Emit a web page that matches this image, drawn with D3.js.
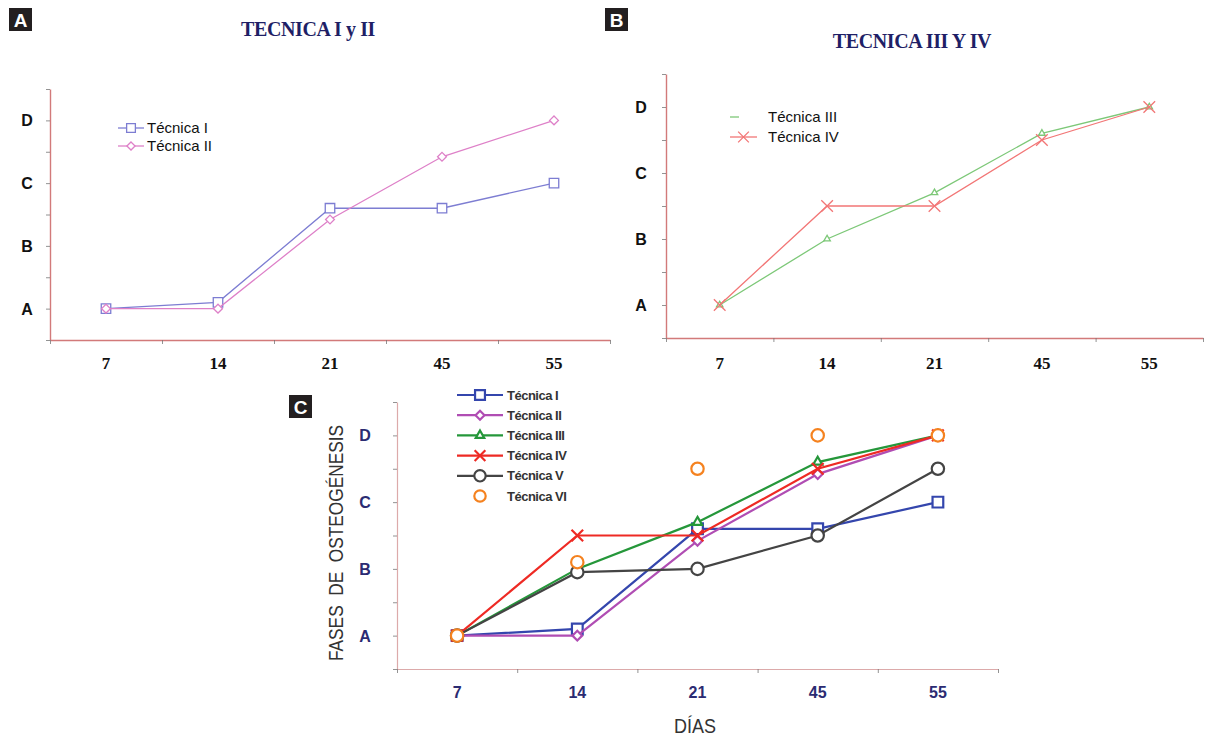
<!DOCTYPE html>
<html>
<head>
<meta charset="utf-8">
<script src="https://cdn.jsdelivr.net/npm/d3@7"></script>
<style>
    body { margin: 0; background: #fff; }
    svg { display: block; }
</style>
</head>
<body>
<div id="chart"></div>
<script>
// days of observation and osteogenesis phases
var dias = ["7", "14", "21", "45", "55"];
var fases = ["A", "B", "C", "D"];

// phase reached per day (1 = A ... 4 = D)
var tecnicaI = [1, 1.1, 2.6, 2.6, 3];
var tecnicaII = [1, 1, 2.42, 3.42, 4];
var tecnicaIII = [1, 2, 2.7, 3.6, 4];
var tecnicaIV = [1, 2.5, 2.5, 3.5, 4];
var tecnicaV = [1, 1.95, 2, 2.5, 3.5];
var tecnicaVI = [1, 2.1, 3.5, 4, 4];

var svg = d3.select("#chart")
    .append("svg")
    .attr("width", 1208)
    .attr("height", 741);

var symX = d3.symbolTimes || d3.symbolX;

function panelLabel(x, y, letter) {
    svg.append("rect")
        .attr("x", x).attr("y", y)
        .attr("width", 23).attr("height", 23)
        .attr("fill", "#231f20");
    svg.append("text")
        .attr("x", x + 11.5).attr("y", y + 18.5)
        .attr("text-anchor", "middle")
        .attr("font-family", "Liberation Sans, Arial, sans-serif")
        .attr("font-weight", "bold")
        .attr("font-size", 19)
        .attr("fill", "#fff")
        .text(letter);
}

function title(x, y, txt) {
    svg.append("text")
        .attr("x", x).attr("y", y)
        .attr("text-anchor", "middle")
        .attr("font-family", "Liberation Serif, Times New Roman, serif")
        .attr("font-weight", "bold")
        .attr("font-size", 20)
        .attr("letter-spacing", -0.4)
        .attr("fill", "#1f1f66")
        .text(txt);
}

function drawPanel(p) {
    var g = svg.append("g");

    var x = d3.scaleBand().domain(dias).range([p.left, p.right]);
    var xEdge = d3.scaleLinear().domain([0, dias.length]).range([p.left, p.right]);
    var y = d3.scaleLinear().domain([0.5, 4.5]).range([p.bottom, p.top]);

    // axes
    var yAxis = g.append("g")
        .attr("transform", "translate(" + p.left + ",0)")
        .call(d3.axisLeft(y).tickValues(d3.range(0.5, 4.51, 0.5)).tickSize(4).tickSizeOuter(0).tickFormat(""));
    var xAxis = g.append("g")
        .attr("transform", "translate(0," + p.bottom + ")")
        .call(d3.axisBottom(xEdge).tickValues(d3.range(0, dias.length + 1)).tickSize(4).tickSizeOuter(0).tickFormat(""));
    [yAxis, xAxis].forEach(function(a) {
        a.select(".domain").attr("stroke", p.axisColor).attr("stroke-width", p.axisWidth);
        a.selectAll(".tick line").attr("stroke", "#777").attr("stroke-width", 0.8);
    });

    // category labels
    g.selectAll(".xlab")
        .data(dias)
        .enter().append("text")
        .attr("x", d => x(d) + x.bandwidth() / 2)
        .attr("y", p.bottom + p.xLabelDy)
        .attr("text-anchor", "middle")
        .attr("font-family", p.xFont)
        .attr("font-size", p.xFontSize)
        .attr("font-weight", p.xWeight)
        .attr("fill", p.labelColor)
        .text(d => d);

    g.selectAll(".ylab")
        .data(fases)
        .enter().append("text")
        .attr("x", p.yLabelX)
        .attr("y", (d, i) => y(i + 1) + p.yLabelDy)
        .attr("text-anchor", "middle")
        .attr("font-family", p.yFont)
        .attr("font-size", p.yFontSize)
        .attr("font-weight", p.yWeight)
        .attr("fill", p.labelColor)
        .text(d => d);

    var line = d3.line()
        .x((d, i) => x(dias[i]) + x.bandwidth() / 2)
        .y(d => y(d));

    p.series.forEach(function(s) {
        if (s.line) {
            g.append("path")
                .datum(s.values)
                .attr("d", line)
                .attr("fill", "none")
                .attr("stroke", s.color)
                .attr("stroke-width", p.lineWidth);
        }
        g.selectAll(null)
            .data(s.values)
            .enter().append("path")
            .attr("transform", (d, i) => "translate(" + (x(dias[i]) + x.bandwidth() / 2) + "," + y(d) + ")")
            .attr("d", d3.symbol().type(s.symbol).size(s.size))
            .attr("fill", s.symbol === symX ? "none" : "#fff")
            .attr("stroke", s.color)
            .attr("stroke-width", s.markerWidth || p.lineWidth);
    });

    // legend
    p.series.forEach(function(s, i) {
        var ly = p.legend.y + i * p.legend.step;
        var lx = p.legend.x;
        if (s.line) {
            g.append("line")
                .attr("x1", lx).attr("x2", lx + (s.legendLen || p.legend.len))
                .attr("y1", ly).attr("y2", ly)
                .attr("stroke", s.color)
                .attr("stroke-width", p.lineWidth);
        }
        if (s.legendMarker !== false) {
            g.append("path")
                .attr("transform", "translate(" + (lx + p.legend.len / 2) + "," + ly + ")")
                .attr("d", d3.symbol().type(s.symbol).size(s.size * 0.85))
                .attr("fill", s.symbol === symX ? "none" : "#fff")
                .attr("stroke", s.color)
                .attr("stroke-width", s.markerWidth || p.lineWidth);
        }
        g.append("text")
            .attr("x", p.legend.textX)
            .attr("y", ly)
            .attr("dy", "0.35em")
            .attr("font-family", p.legend.font)
            .attr("font-size", p.legend.fontSize)
            .attr("font-weight", p.legend.weight)
            .attr("letter-spacing", p.legend.spacing || 0)
            .attr("fill", p.legend.color)
            .text(s.name);
    });
}

// ---------- panel A ----------
panelLabel(9, 8, "A");
title(308, 36, "TECNICA I y II");

drawPanel({
    left: 50, right: 610, top: 89, bottom: 340,
    axisColor: "#d27a7a", axisWidth: 1.4, lineWidth: 1.3,
    labelColor: "#111",
    xFont: "Liberation Serif, Times New Roman, serif", xFontSize: 17, xWeight: "bold", xLabelDy: 29,
    yFont: "Liberation Sans, Arial, sans-serif", yFontSize: 16, yWeight: "bold", yLabelX: 27, yLabelDy: 6,
    series: [
        { name: "Técnica I", values: tecnicaI, color: "#7d7dd2", symbol: d3.symbolSquare, size: 90, line: true },
        { name: "Técnica II", values: tecnicaII, color: "#de80c8", symbol: d3.symbolDiamond2, size: 50, line: true }
    ],
    legend: { x: 118, y: 128, step: 18, len: 26, textX: 147, font: "Liberation Sans, Arial, sans-serif", fontSize: 15, weight: "normal", color: "#111" }
});

// ---------- panel B ----------
panelLabel(605, 8, "B");
title(912, 48, "TECNICA III Y IV");

drawPanel({
    left: 666, right: 1203, top: 74, bottom: 338,
    axisColor: "#d27a7a", axisWidth: 1.4, lineWidth: 1.3,
    labelColor: "#111",
    xFont: "Liberation Serif, Times New Roman, serif", xFontSize: 17, xWeight: "bold", xLabelDy: 31,
    yFont: "Liberation Sans, Arial, sans-serif", yFontSize: 16, yWeight: "bold", yLabelX: 641, yLabelDy: 6,
    series: [
        { name: "Técnica III", values: tecnicaIII, color: "#7dc878", symbol: d3.symbolTriangle2, size: 30, line: true, legendLen: 9, legendMarker: false },
        { name: "Técnica IV", values: tecnicaIV, color: "#f27676", symbol: symX, size: 90, line: true }
    ],
    legend: { x: 730, y: 117, step: 20, len: 27, textX: 768, font: "Liberation Sans, Arial, sans-serif", fontSize: 15, weight: "normal", color: "#111" }
});

// ---------- panel C ----------
panelLabel(289, 395, "C");

drawPanel({
    left: 397, right: 998, top: 402, bottom: 669,
    axisColor: "#dcaaaa", axisWidth: 1.2, lineWidth: 2.2,
    labelColor: "#2b2b72",
    xFont: "Liberation Sans, Arial, sans-serif", xFontSize: 16, xWeight: "bold", xLabelDy: 29,
    yFont: "Liberation Sans, Arial, sans-serif", yFontSize: 16, yWeight: "bold", yLabelX: 365, yLabelDy: 6,
    series: [
        { name: "Técnica I", values: tecnicaI, color: "#3446ad", symbol: d3.symbolSquare, size: 115, line: true },
        { name: "Técnica II", values: tecnicaII, color: "#b04db3", symbol: d3.symbolDiamond2, size: 60, line: true },
        { name: "Técnica III", values: tecnicaIII, color: "#25973a", symbol: d3.symbolTriangle2, size: 60, line: true },
        { name: "Técnica IV", values: tecnicaIV, color: "#ee2a24", symbol: symX, size: 90, line: true },
        { name: "Técnica V", values: tecnicaV, color: "#444444", symbol: d3.symbolCircle, size: 120, line: true },
        { name: "Técnica VI", values: tecnicaVI, color: "#f5821f", symbol: d3.symbolCircle, size: 120, line: false }
    ],
    legend: { x: 457, y: 395, step: 20.2, len: 46, textX: 507, font: "Liberation Sans, Arial, sans-serif", fontSize: 13, weight: "bold", spacing: -0.5, color: "#333" }
});

svg.append("text")
    .attr("transform", "translate(343,543) rotate(-90)")
    .attr("text-anchor", "middle")
    .attr("font-family", "Liberation Sans, Arial, sans-serif")
    .attr("font-size", 20)
    .attr("textLength", 236)
    .attr("lengthAdjust", "spacingAndGlyphs")
    .attr("fill", "#333")
    .style("white-space", "pre")
    .text("FASES  DE  OSTEOGÉNESIS");

svg.append("text")
    .attr("x", 695).attr("y", 733)
    .attr("text-anchor", "middle")
    .attr("font-family", "Liberation Sans, Arial, sans-serif")
    .attr("font-size", 20)
    .attr("textLength", 42)
    .attr("lengthAdjust", "spacingAndGlyphs")
    .attr("fill", "#333")
    .text("DÍAS");
</script>
</body>
</html>
